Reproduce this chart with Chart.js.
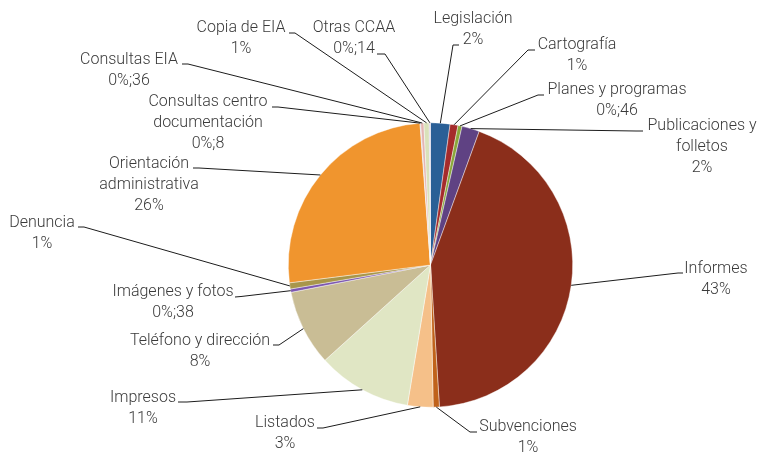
<!DOCTYPE html>
<html>
<head>
<meta charset="utf-8">
<script src="https://cdn.jsdelivr.net/npm/chart.js@4/dist/chart.umd.min.js"></script>
<style>
  html, body { margin: 0; padding: 0; background: #ffffff; }
  #wrap { width: 759px; height: 453px; }
</style>
</head>
<body>
<div id="wrap"><canvas id="c" width="759" height="453"></canvas></div>
<script>
// Categories, clockwise from 12 o'clock
const categories = [
  'Legislación', 'Cartografía', 'Planes y programas', 'Publicaciones y folletos',
  'Informes', 'Subvenciones', 'Listados', 'Impresos', 'Teléfono y dirección',
  'Imágenes y fotos', 'Denuncia', 'Orientación administrativa',
  'Consultas centro documentación', 'Consultas EIA', 'Copia de EIA', 'Otras CCAA'
];

// Share of consultations (%)
const shares = [
  2.2, 0.9, 0.46, 2.0,
  43.4, 0.7, 2.9, 10.7, 8.6,
  0.38, 0.7, 25.8,
  0.08, 0.36, 0.6, 0.14
];

// Label text lines per slice
const labelLines = [
  ['Legislación', '2%'],
  ['Cartografía', '1%'],
  ['Planes y programas', '0%;46'],
  ['Publicaciones y', 'folletos', '2%'],
  ['Informes', '43%'],
  ['Subvenciones', '1%'],
  ['Listados', '3%'],
  ['Impresos', '11%'],
  ['Teléfono y dirección', '8%'],
  ['Imágenes y fotos', '0%;38'],
  ['Denuncia', '1%'],
  ['Orientación', 'administrativa', '26%'],
  ['Consultas centro', 'documentación', '0%;8'],
  ['Consultas EIA', '0%;36'],
  ['Copia de EIA', '1%'],
  ['Otras CCAA', '0%;14']
];

const sliceColors = [
  '#2a5f96', '#a52b2b', '#8aa63a', '#5f4283',
  '#8b2e1b', '#c0621a', '#f5c089', '#e0e6c4', '#c9bd95',
  '#7c57b0', '#a8964a', '#f0952e',
  '#b7c4d9', '#e4b5b3', '#d9e1ba', '#cdbfdc'
];

// Label layout: text centre x, first line y, leader elbow (x,y), leader end (x,y)
const labelLayout = [
  [473, 19, 453, 45, 459, 45],
  [577, 45, 528, 50, 535, 50],
  [617, 90, 538, 95, 544, 95],
  [702, 126, 636, 131, 643, 131],
  [716, 269, 678, 273, 683, 273],
  [528, 427, 470, 432, 477, 432],
  [285, 423, 323, 428, 317, 428],
  [143, 398, 187, 402, 178, 402],
  [200, 341, 279, 345, 273, 345],
  [173, 292, 241, 296.5, 235, 297],
  [42, 223, 84, 227, 78, 227],
  [149, 164, 199, 168, 193, 168],
  [208, 102, 278, 107, 272, 107],
  [129, 60, 188, 64, 182, 64],
  [241, 28, 295, 33, 289, 33],
  [354, 28, 385, 54, 377, 54]
];

const LINE_H = 21;

const leaderLabels = {
  id: 'leaderLabels',
  afterDatasetsDraw(chart) {
    const ctx = chart.ctx;
    const meta = chart.getDatasetMeta(0);
    ctx.save();
    meta.data.forEach((arc, i) => {
      const p = arc.getProps(['x', 'y', 'startAngle', 'endAngle', 'outerRadius'], true);
      const mid = (p.startAngle + p.endAngle) / 2;
      const px = p.x + Math.cos(mid) * p.outerRadius;
      const py = p.y + Math.sin(mid) * p.outerRadius;
      const [cx, y0, ex, ey, sx, sy] = labelLayout[i];

      ctx.beginPath();
      ctx.moveTo(px, py);
      ctx.lineTo(ex, ey);
      ctx.lineTo(sx, sy);
      ctx.strokeStyle = '#1c1c1c';
      ctx.lineWidth = 1;
      ctx.stroke();

      ctx.fillStyle = '#3a3a3a';
      ctx.font = '300 16px Roboto, "Liberation Sans", sans-serif';
      ctx.textAlign = 'center';
      ctx.textBaseline = 'middle';
      labelLines[i].forEach((t, k) => {
        ctx.fillText(t, cx, y0 + k * LINE_H);
      });
    });
    ctx.restore();
  }
};

new Chart(document.getElementById('c'), {
  type: 'pie',
  data: {
    labels: categories,
    datasets: [{
      data: shares,
      backgroundColor: sliceColors,
      borderColor: 'rgba(255,255,255,0.7)',
      borderWidth: 0.6
    }]
  },
  options: {
    responsive: false,
    animation: false,
    layout: { padding: { top: 122.5, bottom: 45.5, left: 288, right: 186 } },
    plugins: {
      legend: { display: false },
      tooltip: { enabled: false }
    }
  },
  plugins: [leaderLabels]
});
</script>
</body>
</html>
